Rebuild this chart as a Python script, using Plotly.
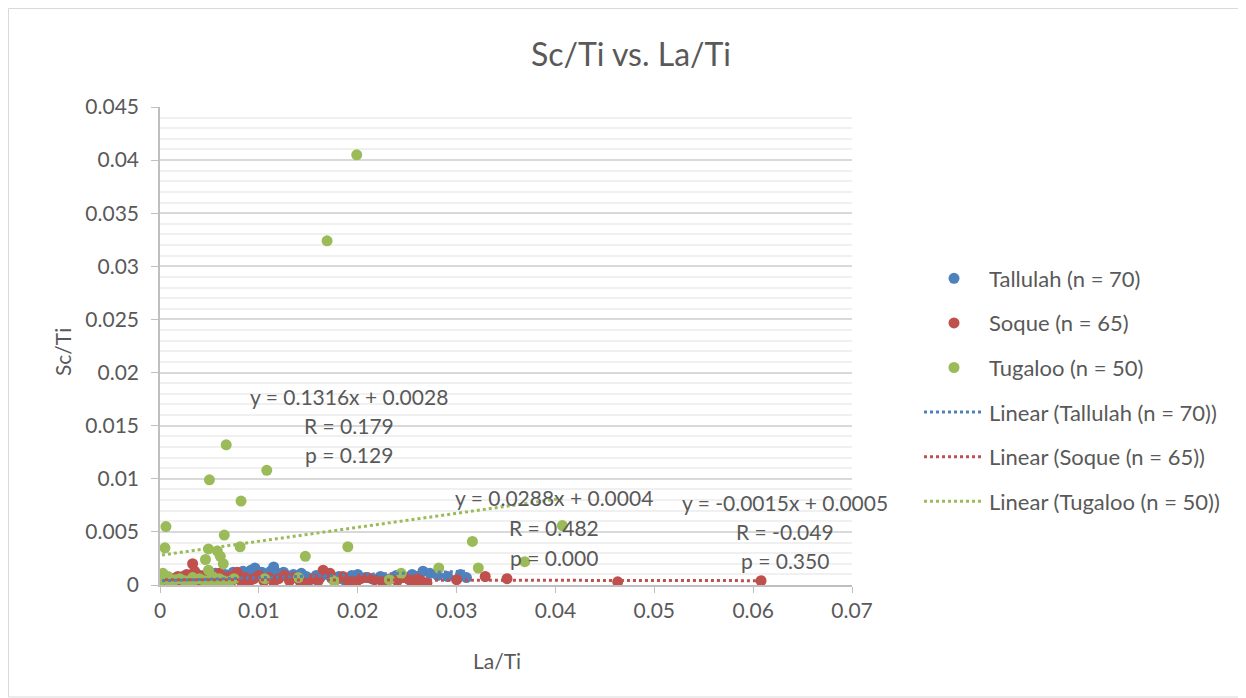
import plotly.graph_objects as go

# ---------------- data ----------------
tallulah_x = [0.0002, 0.0005, 0.0009, 0.0011, 0.0015, 0.0017, 0.0021, 0.0023, 0.0027, 0.0029,
              0.0033, 0.0035, 0.0038, 0.0042, 0.0044, 0.0048, 0.0050, 0.0054, 0.0056, 0.0060,
              0.0062, 0.0066, 0.0068, 0.0072, 0.0074, 0.0078, 0.0080, 0.0084, 0.0086, 0.0090,
              0.0092, 0.0096, 0.0099, 0.0103, 0.0105, 0.0109, 0.0112, 0.0115, 0.0119, 0.0121,
              0.0125, 0.0128, 0.0132, 0.0135, 0.0140, 0.0143, 0.0148, 0.0152, 0.0158, 0.0162,
              0.0169, 0.0174, 0.0181, 0.0186, 0.0194, 0.0200, 0.0208, 0.0214, 0.0223, 0.0230,
              0.0239, 0.0246, 0.0255, 0.0260, 0.0266, 0.0273, 0.0281, 0.0291, 0.0304, 0.0310]
tallulah_y = [0.0002, 0.0004, 0.0003, 0.0006, 0.0005, 0.0007, 0.0004, 0.0008, 0.0006, 0.0009,
              0.0005, 0.0007, 0.0010, 0.0006, 0.0008, 0.0004, 0.0009, 0.0007, 0.0011, 0.0006,
              0.0008, 0.0010, 0.0005, 0.0009, 0.0012, 0.0007, 0.0010, 0.0013, 0.0008, 0.0011,
              0.0014, 0.0016, 0.0009, 0.0012, 0.0007, 0.0010, 0.0013, 0.0017, 0.0011, 0.0008,
              0.0012, 0.0009, 0.0006, 0.0010, 0.0007, 0.0011, 0.0008, 0.0005, 0.0009, 0.0007,
              0.0010, 0.0006, 0.0008, 0.0005, 0.0009, 0.0010, 0.0007, 0.0006, 0.0008, 0.0005,
              0.0009, 0.0007, 0.0010, 0.0008, 0.0013, 0.0011, 0.0009, 0.0008, 0.0010, 0.0007]

soque_x = [0.0005, 0.0008, 0.0010, 0.0013, 0.0016, 0.0018, 0.0021, 0.0024, 0.0027, 0.0030,
           0.0033, 0.0035, 0.0038, 0.0041, 0.0044, 0.0047, 0.0050, 0.0053, 0.0057, 0.0060,
           0.0064, 0.0066, 0.0070, 0.0074, 0.0078, 0.0082, 0.0086, 0.0090, 0.0095, 0.0100,
           0.0105, 0.0110, 0.0115, 0.0120, 0.0126, 0.0131, 0.0136, 0.0142, 0.0148, 0.0155,
           0.0160, 0.0165, 0.0172, 0.0178, 0.0185, 0.0190, 0.0198, 0.0203, 0.0210, 0.0217,
           0.0225, 0.0233, 0.0240, 0.0248, 0.0252, 0.0256, 0.0260, 0.0264, 0.0270, 0.0300,
           0.0329, 0.0351, 0.0463, 0.0608, 0.0196]
soque_y = [0.0002, 0.0004, 0.0001, 0.0006, 0.0003, 0.0008, 0.0005, 0.0002, 0.0010, 0.0004,
           0.0020, 0.0013, 0.0006, 0.0003, 0.0009, 0.0005, 0.0002, 0.0007, 0.0004, 0.0011,
           0.0006, 0.0003, 0.0008, 0.0005, 0.0012, 0.0004, 0.0007, 0.0003, 0.0006, 0.0009,
           0.0004, 0.0007, 0.0003, 0.0006, 0.0009, 0.0004, 0.0007, 0.0003, 0.0002, 0.0006,
           0.0004, 0.0014, 0.0011, 0.0005, 0.0008, 0.0004, 0.0002, 0.0006, 0.0007, 0.0005,
           0.0003, 0.0006, 0.0004, 0.0007, 0.0005, 0.0003, 0.0006, 0.0004, 0.0002, 0.0005,
           0.0008, 0.0006, 0.0003, 0.0004, 0.0003]

tugaloo_x = [0.0199, 0.0169, 0.0067, 0.0108, 0.0050, 0.0082, 0.0006, 0.0065, 0.0081, 0.0147,
             0.0190, 0.0316, 0.0407, 0.0369, 0.0322, 0.0282, 0.0005, 0.0049, 0.0058, 0.0046,
             0.0061, 0.0064, 0.0049, 0.0003, 0.0244, 0.0232, 0.0106, 0.0140, 0.0176, 0.0002,
             0.0015, 0.0025, 0.0035, 0.0045, 0.0055, 0.0064, 0.0010, 0.0020, 0.0030, 0.0040,
             0.0052, 0.0060, 0.0008, 0.0033, 0.0053, 0.0070, 0.0012, 0.0027, 0.0057, 0.0075]
tugaloo_y = [0.0405, 0.0324, 0.0132, 0.0108, 0.0099, 0.0079, 0.0055, 0.0047, 0.0036, 0.0027,
             0.0036, 0.0041, 0.0056, 0.0022, 0.0016, 0.0016, 0.0035, 0.0034, 0.0032, 0.0024,
             0.0027, 0.0020, 0.0014, 0.0011, 0.0011, 0.0005, 0.0006, 0.0007, 0.0004, 0.0005,
             0.0005, 0.0004, 0.0005, 0.0004, 0.0005, 0.0004, 0.0003, 0.0006, 0.0003, 0.0006,
             0.0003, 0.0006, 0.0008, 0.0007, 0.0008, 0.0003, 0.0002, 0.0002, 0.0002, 0.0006]

series_names = ["Tallulah (n = 70)", "Soque (n = 65)", "Tugaloo (n = 50)"]
trend_slopes = [0.0288, -0.0015, 0.1316]
trend_intercepts = [0.0004, 0.0005, 0.0028]
trend_labels = [
    ["y = 0.0288x + 0.0004", "R = 0.482", "p = 0.000"],
    ["y = -0.0015x + 0.0005", "R = -0.049", "p = 0.350"],
    ["y = 0.1316x + 0.0028", "R = 0.179", "p = 0.129"],
]
x_ticks = [0, 0.01, 0.02, 0.03, 0.04, 0.05, 0.06, 0.07]
x_ticktext = ["0", "0.01", "0.02", "0.03", "0.04", "0.05", "0.06", "0.07"]
y_ticks = [0, 0.005, 0.01, 0.015, 0.02, 0.025, 0.03, 0.035, 0.04, 0.045]
y_ticktext = ["0", "0.005", "0.01", "0.015", "0.02", "0.025", "0.03", "0.035", "0.04", "0.045"]

# ---------------- styling ----------------
colors = ["#4F81BD", "#C0504D", "#9BBB59"]
FONT = "Lato, 'Open Sans', sans-serif"
TXT = "#595959"
W, H = 1246, 698
OFF = 8  # page offset of the figure inside the window
L, R, T, B = 152, 402, 99, 121
PW, PH = W - L - R, H - T - B


def px(xs):
    return (xs - OFF - L) / PW


def py(ys):
    return (H - B - (ys - OFF)) / PH


xs = [tallulah_x, soque_x, tugaloo_x]
ys = [tallulah_y, soque_y, tugaloo_y]

fig = go.Figure()
for i in range(3):
    fig.add_trace(go.Scatter(
        x=xs[i], y=ys[i], mode="markers", name=series_names[i],
        legendgroup="g%d" % i,
        marker=dict(size=11, color=colors[i], line=dict(width=0)),
    ))
for i in range(3):
    x0, x1 = min(xs[i]), max(xs[i])
    fig.add_trace(go.Scatter(
        x=[x0, x1],
        y=[trend_slopes[i] * x0 + trend_intercepts[i], trend_slopes[i] * x1 + trend_intercepts[i]],
        mode="lines", name="Linear (" + series_names[i] + ")",
        legendgroup="t%d" % i,
        line=dict(color=colors[i], width=3, dash="dot"),
    ))

# trendline label positions (screen-pixel centres)
label_px = [(554, [497, 527, 557]), (785, [502, 531, 560]), (349, [396, 425, 454])]
for i in range(3):
    cx, rows = label_px[i]
    for j, t in enumerate(trend_labels[i]):
        fig.add_annotation(
            x=px(cx), y=py(rows[j]),
            xref="paper", yref="paper", text=t, showarrow=False,
            font=dict(family=FONT, size=21, color=TXT), xanchor="center", yanchor="middle",
        )

# axis titles
fig.add_annotation(x=px(62), y=py(352), xref="paper", yref="paper",
                   text="Sc/Ti", textangle=-90, showarrow=False, xanchor="center", yanchor="middle",
                   font=dict(family=FONT, size=21, color=TXT))
fig.add_annotation(x=px(497), y=py(660), xref="paper", yref="paper",
                   text="La/Ti", showarrow=False, xanchor="center", yanchor="middle",
                   font=dict(family=FONT, size=21, color=TXT))

# chart-area border
fig.add_shape(type="rect", xref="paper", yref="paper",
              x0=px(8.5), x1=px(1245), y0=py(697), y1=py(8.5),
              line=dict(color="#D9D9D9", width=1), layer="below")

fig.update_layout(
    width=W, height=H,
    margin=dict(l=L, r=R, t=T, b=B),
    paper_bgcolor="white", plot_bgcolor="white",
    font=dict(family=FONT, color=TXT),
    title=dict(text="Sc/Ti vs. La/Ti", x=(631 - OFF) / W, xanchor="center", y=1 - (55 - OFF) / H,
               yanchor="middle", font=dict(family=FONT, size=32, color=TXT)),
    showlegend=True,
    legend=dict(x=px(919), xanchor="left", y=py(390), yanchor="middle",
                font=dict(family=FONT, size=22, color=TXT), tracegroupgap=13,
                bgcolor="rgba(0,0,0,0)", itemwidth=60),
    xaxis=dict(range=[0, 0.07], tickvals=x_ticks, ticktext=x_ticktext, showgrid=False, zeroline=False,
               showline=True, linecolor="#BFBFBF", linewidth=1.5, ticks="outside", ticklen=6,
               tickcolor="#BFBFBF", tickfont=dict(family=FONT, size=21, color=TXT)),
    yaxis=dict(range=[0, 0.045], tickvals=y_ticks, ticktext=y_ticktext, showgrid=True, gridcolor="#D9D9D9",
               gridwidth=1.5, zeroline=False, showline=True, linecolor="#BFBFBF", linewidth=1.5,
               ticks="outside", ticklen=7, tickcolor="#BFBFBF", ticklabelstandoff=8,
               tickfont=dict(family=FONT, size=21, color=TXT),
               minor=dict(dtick=0.001, showgrid=True, gridcolor="#F0F0F0", gridwidth=1.5)),
)
fig.write_html("out.html")
